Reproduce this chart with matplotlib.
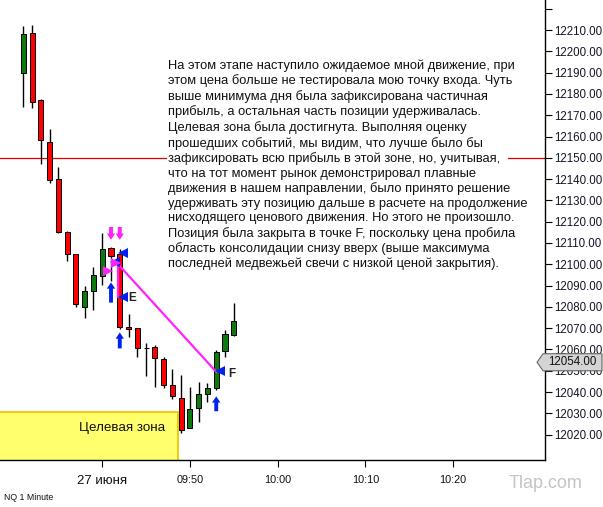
import matplotlib
matplotlib.use('Agg')
import matplotlib.pyplot as plt
from matplotlib.patches import Rectangle, Polygon
import matplotlib.transforms as mtransforms

plt.rcParams['font.family'] = ['Liberation Sans', 'DejaVu Sans']

# ---------------- data ----------------
minutes = list(range(31, 56))  # minutes after 09:00, one candle per minute
opens = [12189.75, 12208.5, 12177.0, 12157.5, 12140.0, 12115.25, 12104.75, 12079.75, 12087.5, 12094.5,
         12107.5, 12105.0, 12070.75, 12070.0, 12060.75, 12061.0, 12055.5, 12043.25, 12037.0, 12023.0,
         12032.5, 12039.0, 12041.75, 12059.25, 12067.0]
highs = [12212.0, 12212.25, 12177.5, 12163.75, 12145.75, 12115.5, 12105.0, 12090.0, 12098.5, 12114.5,
         12108.0, 12107.0, 12076.5, 12070.0, 12063.0, 12062.0, 12056.25, 12050.75, 12048.0, 12042.5,
         12044.5, 12044.25, 12059.75, 12069.25, 12082.0]
lows = [12173.75, 12173.25, 12147.0, 12138.0, 12114.5, 12101.75, 12079.75, 12075.0, 12078.5, 12090.25,
        12092.0, 12069.75, 12066.0, 12056.5, 12047.5, 12042.5, 12041.75, 12036.75, 12021.0, 12023.0,
        12026.0, 12035.5, 12040.75, 12056.5, 12066.25]
closes = [12208.0, 12176.0, 12158.5, 12139.5, 12115.0, 12104.75, 12081.25, 12087.5, 12095.0, 12107.25,
          12104.0, 12070.75, 12069.5, 12060.5, 12060.75, 12056.0, 12043.25, 12038.25, 12022.0, 12032.0,
          12039.0, 12041.75, 12058.75, 12067.5, 12073.5]

ytick_values = list(range(12020, 12230, 10))
ytick_labels = [f'{v:.2f}' for v in ytick_values[:-1]] + ['']
xtick_values = [40, 50, 60, 70, 80]
xtick_labels = ['27 июня', '09:50', '10:00', '10:10', '10:20']

level_price = 12150.0
last_price = 12054.0
zone_top = 12030.75
zone_bottom = 12000.0
zone_end = 48.6
zone_label = 'Целевая зона'

trade_line_t = [41.7, 53.0]
trade_line_p = [12100.5, 12049.5]
entry_mark_t = [41.85, 41.85]
entry_mark_p = [12100.5, 12084.5]

down_arrows_t = [41, 42]
down_arrows_p = [12117.5, 12111.5]          # (tail, tip)
up_arrows_t = [41, 42, 53]
up_arrows_tail = [12082.0, 12060.5, 12031.0]
up_arrows_tip = [12091.5, 12068.0, 12038.0]
blue_tri_t = [42.4, 41.4, 42.4, 53.4]
blue_tri_p = [12105.3, 12101.0, 12084.6, 12050.0]
mag_tri_t = [40.6, 41.6]
mag_tri_p = [12097.0, 12100.6]
labels_txt = ['E', 'F']
labels_t = [43.4, 54.8]
labels_p = [12084.0, 12048.5]

note = ("На этом этапе наступило ожидаемое мной движение, при\n"
        "этом цена больше не тестировала мою точку входа. Чуть\n"
        "выше минимума дня была зафиксирована частичная\n"
        "прибыль, а остальная часть позиции удерживалась.\n"
        "Целевая зона была достигнута. Выполняя оценку\n"
        "прошедших событий, мы видим, что лучше было бы\n"
        "зафиксировать всю прибыль в этой зоне, но, учитывая,\n"
        "что на тот момент рынок демонстрировал плавные\n"
        "движения в нашем направлении, было принято решение\n"
        "удерживать эту позицию дальше в расчете на продолжение\n"
        "нисходящего ценового движения. Но этого не произошло.\n"
        "Позиция была закрыта в точке F, поскольку цена пробила\n"
        "область консолидации снизу вверх (выше максимума\n"
        "последней медвежьей свечи с низкой ценой закрытия).")

# ---------------- figure ----------------
W, H = 603, 507
fig = plt.figure(figsize=(W / 100, H / 100), dpi=100)
fig.patch.set_facecolor('white')
ax = fig.add_axes([0, 47 / H, 545 / W, 460 / H])
ax.set_xlim(28.34, 90.49)
ax.set_ylim(12008.1, 12224.1)

for s in ['left', 'top']:
    ax.spines[s].set_visible(False)
for s in ['right', 'bottom']:
    ax.spines[s].set_color('black')
    ax.spines[s].set_linewidth(1.0)

ax.yaxis.tick_right()
ax.set_yticks(ytick_values)
ax.set_yticklabels(ytick_labels)
ax.tick_params(axis='y', direction='out', length=5, width=0.8, pad=1.5,
               labelsize=8.3, labelcolor='#15152a')
ax.set_xticks(xtick_values)
ax.set_xticklabels(xtick_labels)
ax.tick_params(axis='x', direction='out', length=5, width=0.8, pad=6,
               labelsize=7.8, labelcolor='#111111')
ax.get_xticklabels()[0].set_fontsize(9.5)

# target zone
ax.add_patch(Rectangle((ax.get_xlim()[0] - 1, zone_bottom), zone_end - ax.get_xlim()[0] + 1,
                       zone_top - zone_bottom, facecolor='#FFFF6E', edgecolor='#F2C400',
                       linewidth=1.3, zorder=1))
ax.text(42.25, 12023.3, zone_label, ha='center', va='center', fontsize=9.6, color='#111111', zorder=2)

# horizontal level (interrupted by the note text)
ax.axhline(level_price, xmin=0, xmax=166 / 545, color='#E00000', lw=0.9, zorder=1)
ax.axhline(level_price, xmin=508 / 545, xmax=1, color='#E00000', lw=0.9, zorder=1)

# candles
bw = 0.58
for t, o, h, l, c in zip(minutes, opens, highs, lows, closes):
    col = '#0C7A0C' if c > o else '#FF0000'
    ax.vlines(t, l, h, color='black', lw=1.0, zorder=3)
    lo, hi = min(o, c), max(o, c)
    ax.add_patch(Rectangle((t - bw / 2, lo), bw, hi - lo, facecolor=col,
                           edgecolor='black', linewidth=0.7, zorder=4))

# trade line and markers
ax.plot(trade_line_t, trade_line_p, color='#FF22FF', lw=1.6, zorder=5)
ax.plot(entry_mark_t, entry_mark_p, color='#FF22FF', lw=1.6, zorder=5)

for t in down_arrows_t:
    ax.annotate('', xy=(t, down_arrows_p[1]), xytext=(t, down_arrows_p[0]),
                arrowprops=dict(arrowstyle='simple,head_width=0.6,head_length=0.45,tail_width=0.28',
                                color='#FF22FF', lw=0, shrinkA=0, shrinkB=0), zorder=6)
for t, p0, p1 in zip(up_arrows_t, up_arrows_tail, up_arrows_tip):
    ax.annotate('', xy=(t, p1), xytext=(t, p0),
                arrowprops=dict(arrowstyle='simple,head_width=0.6,head_length=0.45,tail_width=0.28',
                                color='#0022EE', lw=0, shrinkA=0, shrinkB=0), zorder=6)

ax.plot(blue_tri_t, blue_tri_p, linestyle='none', marker='<', markersize=6.5,
        color='#0022EE', markeredgewidth=0, zorder=7)
ax.plot(mag_tri_t, mag_tri_p, linestyle='none', marker='>', markersize=6.5,
        color='#FF22FF', markeredgewidth=0, zorder=7)
for s, t, p in zip(labels_txt, labels_t, labels_p):
    ax.text(t, p, s, ha='center', va='center', fontsize=8.5, fontweight='bold',
            color='#222222', zorder=7)

# last price tag on the axis
trans = mtransforms.blended_transform_factory(ax.transAxes, ax.transData)
hh = 4.0
tag = Polygon([(537 / 545, last_price), (543 / 545, last_price + hh), (602 / 545, last_price + hh),
               (602 / 545, last_price - hh), (543 / 545, last_price - hh)], closed=True,
              transform=trans, facecolor='#D4D4D4', edgecolor='#666666', lw=0.8,
              clip_on=False, zorder=10)
ax.add_patch(tag)
ax.text(572 / 545, last_price, f'{last_price:.2f}', transform=trans, ha='center', va='center',
        fontsize=8.3, color='#111111', clip_on=False, zorder=11)

# note text
fig.text(168 / W, 1 - 59 / H, note, ha='left', va='top', fontsize=9.3, color='#111111',
         linespacing=1.27)

# footer texts
fig.text(4 / W, 1 - 497 / H, 'NQ 1 Minute', ha='left', va='center', fontsize=6.3, color='#111111')
fig.text(546 / W, 1 - 484 / H, 'Tlap.com', ha='center', va='center', fontsize=13,
         color='#C4C4C4')

fig.savefig('out.png', dpi=100, facecolor='white')
